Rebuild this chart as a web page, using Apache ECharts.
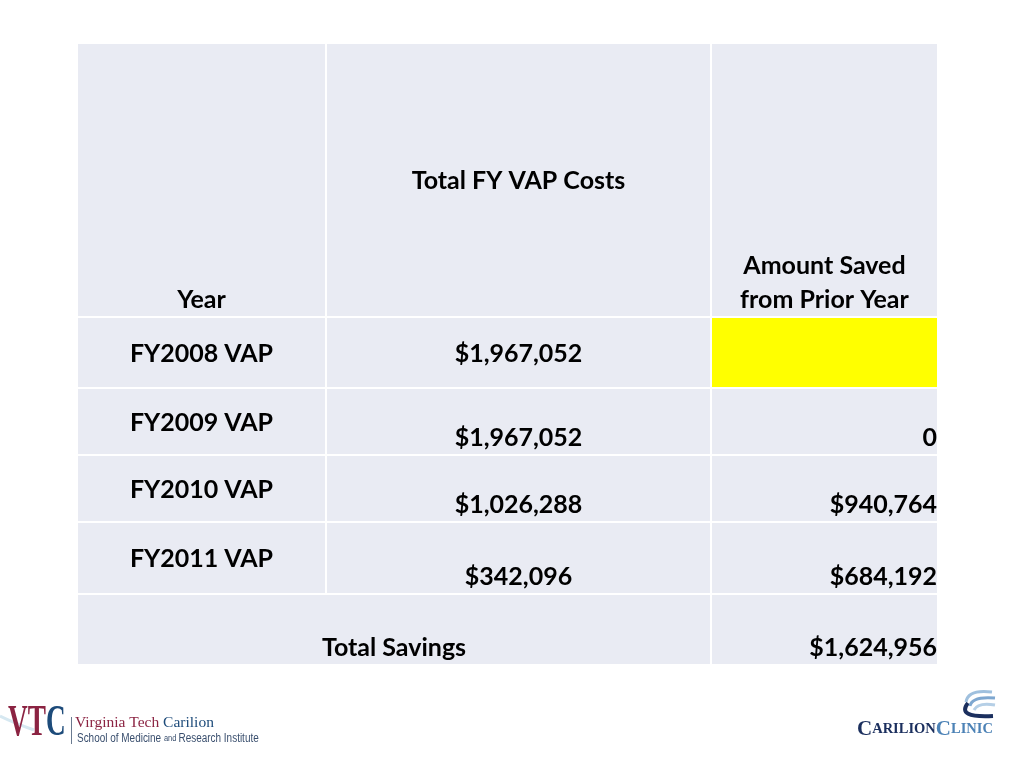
<!DOCTYPE html>
<html><head><meta charset="utf-8">
<script src="https://cdn.jsdelivr.net/npm/echarts@6/dist/echarts.min.js"></script>
<style>html,body{margin:0;padding:0;background:#fff}#c{width:1024px;height:768px}</style>
</head><body><div id="c"></div>
<script>
// ---- data ----
const headers = ['Year', 'Total FY VAP Costs', 'Amount Saved\nfrom Prior Year'];
const years = ['FY2008 VAP', 'FY2009 VAP', 'FY2010 VAP', 'FY2011 VAP'];
const totalCosts = [1967052, 1967052, 1026288, 342096];
const amountSaved = [null, 0, 940764, 684192];
const totalLabel = 'Total Savings';
const totalSavings = 1624956;

// ---- layout (table geometry in axis units) ----
const COL_EDGES = [0, 249, 634, 861];
const ROW_EDGES = [0, 274, 345, 412, 479, 551, 622];
const CELL_BG = '#e9ebf3', HILITE = '#ffff00';
const FONT = { fontSize: 25, fontWeight: 'bold', fontFamily: 'Lato, "Open Sans", sans-serif' };

function money(v) { return v === 0 ? '0' : '$' + v.toLocaleString('en-US'); }

// cells: [colStart, colEnd, row, highlight]
const cells = [];
for (let c = 0; c < 3; c++) cells.push([c, c + 1, 0, 0]);
years.forEach((y, i) => {
  for (let c = 0; c < 3; c++) cells.push([c, c + 1, i + 1, (c === 2 && amountSaved[i] == null) ? 1 : 0]);
});
cells.push([0, 2, years.length + 1, 0]);
cells.push([2, 3, years.length + 1, 0]);

// texts: [colStart, colEnd, row, text, verticalMode, horizontalMode]
const texts = [];
texts.push([0, 1, 0, headers[0], 'b', 'c']);
texts.push([1, 2, 0, headers[1], 'm', 'c']);
texts.push([2, 3, 0, headers[2], 'b', 'c']);
years.forEach((y, i) => {
  const vm = i === 0 ? 'm' : 'b';
  texts.push([0, 1, i + 1, y, 'm', 'c']);
  texts.push([1, 2, i + 1, money(totalCosts[i]), vm, 'c']);
  if (amountSaved[i] != null) texts.push([2, 3, i + 1, money(amountSaved[i]), vm, 'r']);
});
texts.push([0, 2, years.length + 1, totalLabel, 'b', 'c']);
texts.push([2, 3, years.length + 1, money(totalSavings), 'b', 'r']);

const chart = echarts.init(document.getElementById('c'), null, { renderer: 'canvas' });

const option = {
  animation: false,
  backgroundColor: '#ffffff',
  grid: { left: 77, top: 43, width: 861, height: 622 },
  xAxis: { type: 'value', min: 0, max: 861, show: false },
  yAxis: { type: 'value', min: 0, max: 622, inverse: true, show: false },
  series: [
    {
      type: 'custom',
      silent: true,
      encode: { x: 0, y: 2 },
      data: cells,
      renderItem(params, api) {
        const c0 = api.value(0), c1 = api.value(1), r = api.value(2), h = api.value(3);
        const p0 = api.coord([COL_EDGES[c0], ROW_EDGES[r]]);
        const p1 = api.coord([COL_EDGES[c1], ROW_EDGES[r + 1]]);
        return {
          type: 'rect',
          shape: { x: p0[0] + 1, y: p0[1] + 1, width: p1[0] - p0[0] - 2, height: p1[1] - p0[1] - 2 },
          style: { fill: h ? HILITE : CELL_BG }
        };
      }
    },
    {
      type: 'custom',
      silent: true,
      encode: { x: 0, y: 2 },
      data: texts.map(t => [t[0], t[1], t[2]]),
      renderItem(params, api) {
        const t = texts[params.dataIndex];
        const c0 = api.value(0), c1 = api.value(1), r = api.value(2);
        const p0 = api.coord([COL_EDGES[c0], ROW_EDGES[r]]);
        const p1 = api.coord([COL_EDGES[c1], ROW_EDGES[r + 1]]);
        const right = t[5] === 'r';
        const x = right ? p1[0] - 1 : (p0[0] + p1[0]) / 2;
        const bottom = t[4] === 'b';
        const y = bottom ? p1[1] : (p0[1] + p1[1]) / 2 + 1;
        return {
          type: 'text',
          style: Object.assign({
            text: t[3], x: x, y: y,
            align: right ? 'right' : 'center',
            verticalAlign: bottom ? 'bottom' : 'middle',
            lineHeight: 34,
            fill: '#000000'
          }, FONT)
        };
      }
    }
  ],
  graphic: [
    // VTC logo (left)
    { type: 'bezierCurve', silent: true, shape: { x1: 0, y1: 716, cpx1: 12, cpy1: 722, x2: 34, y2: 730 },
      style: { stroke: '#d6e8f1', lineWidth: 3, fill: null } },
    { type: 'text', silent: true, x: 8, y: 746, scaleX: 0.62,
      style: { text: '{r|VT}{b|C}', x: 0, y: 0, verticalAlign: 'bottom',
        rich: {
          r: { fontFamily: '"Liberation Serif", serif', fontWeight: 'bold', fontSize: 44, fill: '#8b2342' },
          b: { fontFamily: '"Liberation Serif", serif', fontWeight: 'bold', fontSize: 44, fill: '#1d4b7a' }
        } } },
    { type: 'rect', silent: true, shape: { x: 71, y: 717, width: 1, height: 27 }, style: { fill: '#6a7a90' } },
    { type: 'text', silent: true,
      style: { text: '{r|Virginia Tech }{b|Carilion}', x: 75, y: 731, verticalAlign: 'bottom',
        rich: {
          r: { fontFamily: '"Liberation Serif", serif', fontSize: 15.5, fill: '#8b2342' },
          b: { fontFamily: '"Liberation Serif", serif', fontSize: 15.5, fill: '#1d4b7a' }
        } } },
    { type: 'text', silent: true, x: 77, y: 745, scaleX: 0.83,
      style: { text: '{a|School of Medicine }{s|and }{a|Research Institute}', x: 0, y: 0, verticalAlign: 'bottom',
        rich: {
          a: { fontFamily: '"Liberation Sans", sans-serif', fontSize: 12, fill: '#3a4f6e' },
          s: { fontFamily: '"Liberation Sans", sans-serif', fontSize: 9, fill: '#3a4f6e' }
        } } },
    // Carilion Clinic logo (right)
    { type: 'bezierCurve', silent: true, shape: { x1: 968, y1: 703, cpx1: 956, cpy1: 718, x2: 993, y2: 716 },
      style: { stroke: '#1b2f5e', lineWidth: 4, fill: null } },
    { type: 'bezierCurve', silent: true, shape: { x1: 966, y1: 702, cpx1: 968, cpy1: 689, x2: 992, y2: 692 },
      style: { stroke: '#9fc0de', lineWidth: 3, fill: null } },
    { type: 'bezierCurve', silent: true, shape: { x1: 970, y1: 706, cpx1: 972, cpy1: 696, x2: 995, y2: 698 },
      style: { stroke: '#7ea7d0', lineWidth: 3, fill: null } },
    { type: 'bezierCurve', silent: true, shape: { x1: 974, y1: 710, cpx1: 978, cpy1: 702, x2: 995, y2: 705 },
      style: { stroke: '#b5cfe6', lineWidth: 3, fill: null } },
    { type: 'text', silent: true,
      style: { text: '{nb|C}{ns|ARILION}{lb|C}{ls|LINIC}', x: 857, y: 740, verticalAlign: 'bottom',
        rich: {
          nb: { fontFamily: '"Liberation Serif", serif', fontWeight: 'bold', fontSize: 21, fill: '#1b2f5e' },
          ns: { fontFamily: '"Liberation Serif", serif', fontWeight: 'bold', fontSize: 14.5, fill: '#1b2f5e' },
          lb: { fontFamily: '"Liberation Serif", serif', fontWeight: 'bold', fontSize: 21, fill: '#4c82b6' },
          ls: { fontFamily: '"Liberation Serif", serif', fontWeight: 'bold', fontSize: 14.5, fill: '#4c82b6' }
        } } }
  ]
};
chart.setOption(option);
</script>
</body></html>
